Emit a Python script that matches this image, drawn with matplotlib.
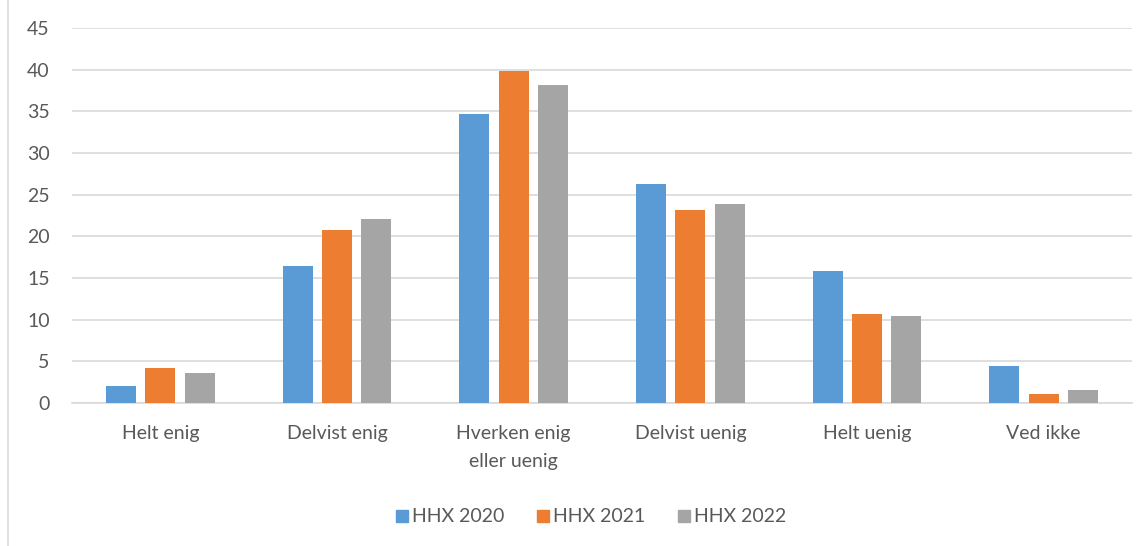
import numpy as np
import matplotlib
matplotlib.use('Agg')
import matplotlib.pyplot as plt
from matplotlib.lines import Line2D

plt.rcParams['font.family'] = ['Lato', 'DejaVu Sans']

# data
kategorier = ['Helt enig', 'Delvist enig', 'Hverken enig\neller uenig',
              'Delvist uenig', 'Helt uenig', 'Ved ikke']
serier = ['HHX 2020', 'HHX 2021', 'HHX 2022']
hhx_2020 = [2.1, 16.4, 34.7, 26.3, 15.8, 4.5]
hhx_2021 = [4.2, 20.8, 39.8, 23.2, 10.7, 1.1]
hhx_2022 = [3.6, 22.1, 38.2, 23.9, 10.5, 1.6]
farver = ['#5B9BD5', '#ED7D31', '#A5A5A5']
yticks = [0, 5, 10, 15, 20, 25, 30, 35, 40, 45]

W, H = 1146, 546
fig = plt.figure(figsize=(W/100, H/100), dpi=100, facecolor='white')
ax = fig.add_axes([72/W, 1-403/H, (1132-72)/W, (403-28)/H])

x = np.arange(len(kategorier))
bw = 0.17
step = 0.222
for i, (vals, navn) in enumerate(zip([hhx_2020, hhx_2021, hhx_2022], serier)):
    ax.bar(x + (i-1)*step, vals, width=bw, color=farver[i], label=navn,
           linewidth=0, zorder=3)

ax.set_xlim(-0.5, len(kategorier)-0.5)
ax.set_ylim(0, 45)
ax.set_yticks(yticks)
ax.set_xticks(x)
ax.set_xticklabels(kategorier, fontsize=14, color='#595959', linespacing=1.75)
ax.tick_params(axis='y', labelsize=14, labelcolor='#595959', length=0, pad=16)
ax.tick_params(axis='x', length=0, pad=16)
for lbl in ax.get_yticklabels():
    lbl.set_horizontalalignment('right')
ax.grid(axis='y', color='#D9D9D9', linewidth=1.2, zorder=0)
for s in ['top', 'right', 'left']:
    ax.spines[s].set_visible(False)
ax.spines['bottom'].set_color('#D9D9D9')
ax.spines['bottom'].set_linewidth(1.2)

handles = [Line2D([], [], marker='s', linestyle='none', markersize=9,
                  markerfacecolor=c, markeredgecolor=c) for c in farver]
fig.legend(handles, serier, loc='center', bbox_to_anchor=(590/W, 1-517/H),
           ncol=3, frameon=False, fontsize=14, labelcolor='#595959',
           handletextpad=0.1, columnspacing=1.6, handlelength=0.8)

# left edge of the chart border
fig.add_artist(Line2D([8/W, 8/W], [0, 1], color='#D9D9D9', linewidth=1.2))

fig.savefig('out.png', dpi=100, facecolor='white')
